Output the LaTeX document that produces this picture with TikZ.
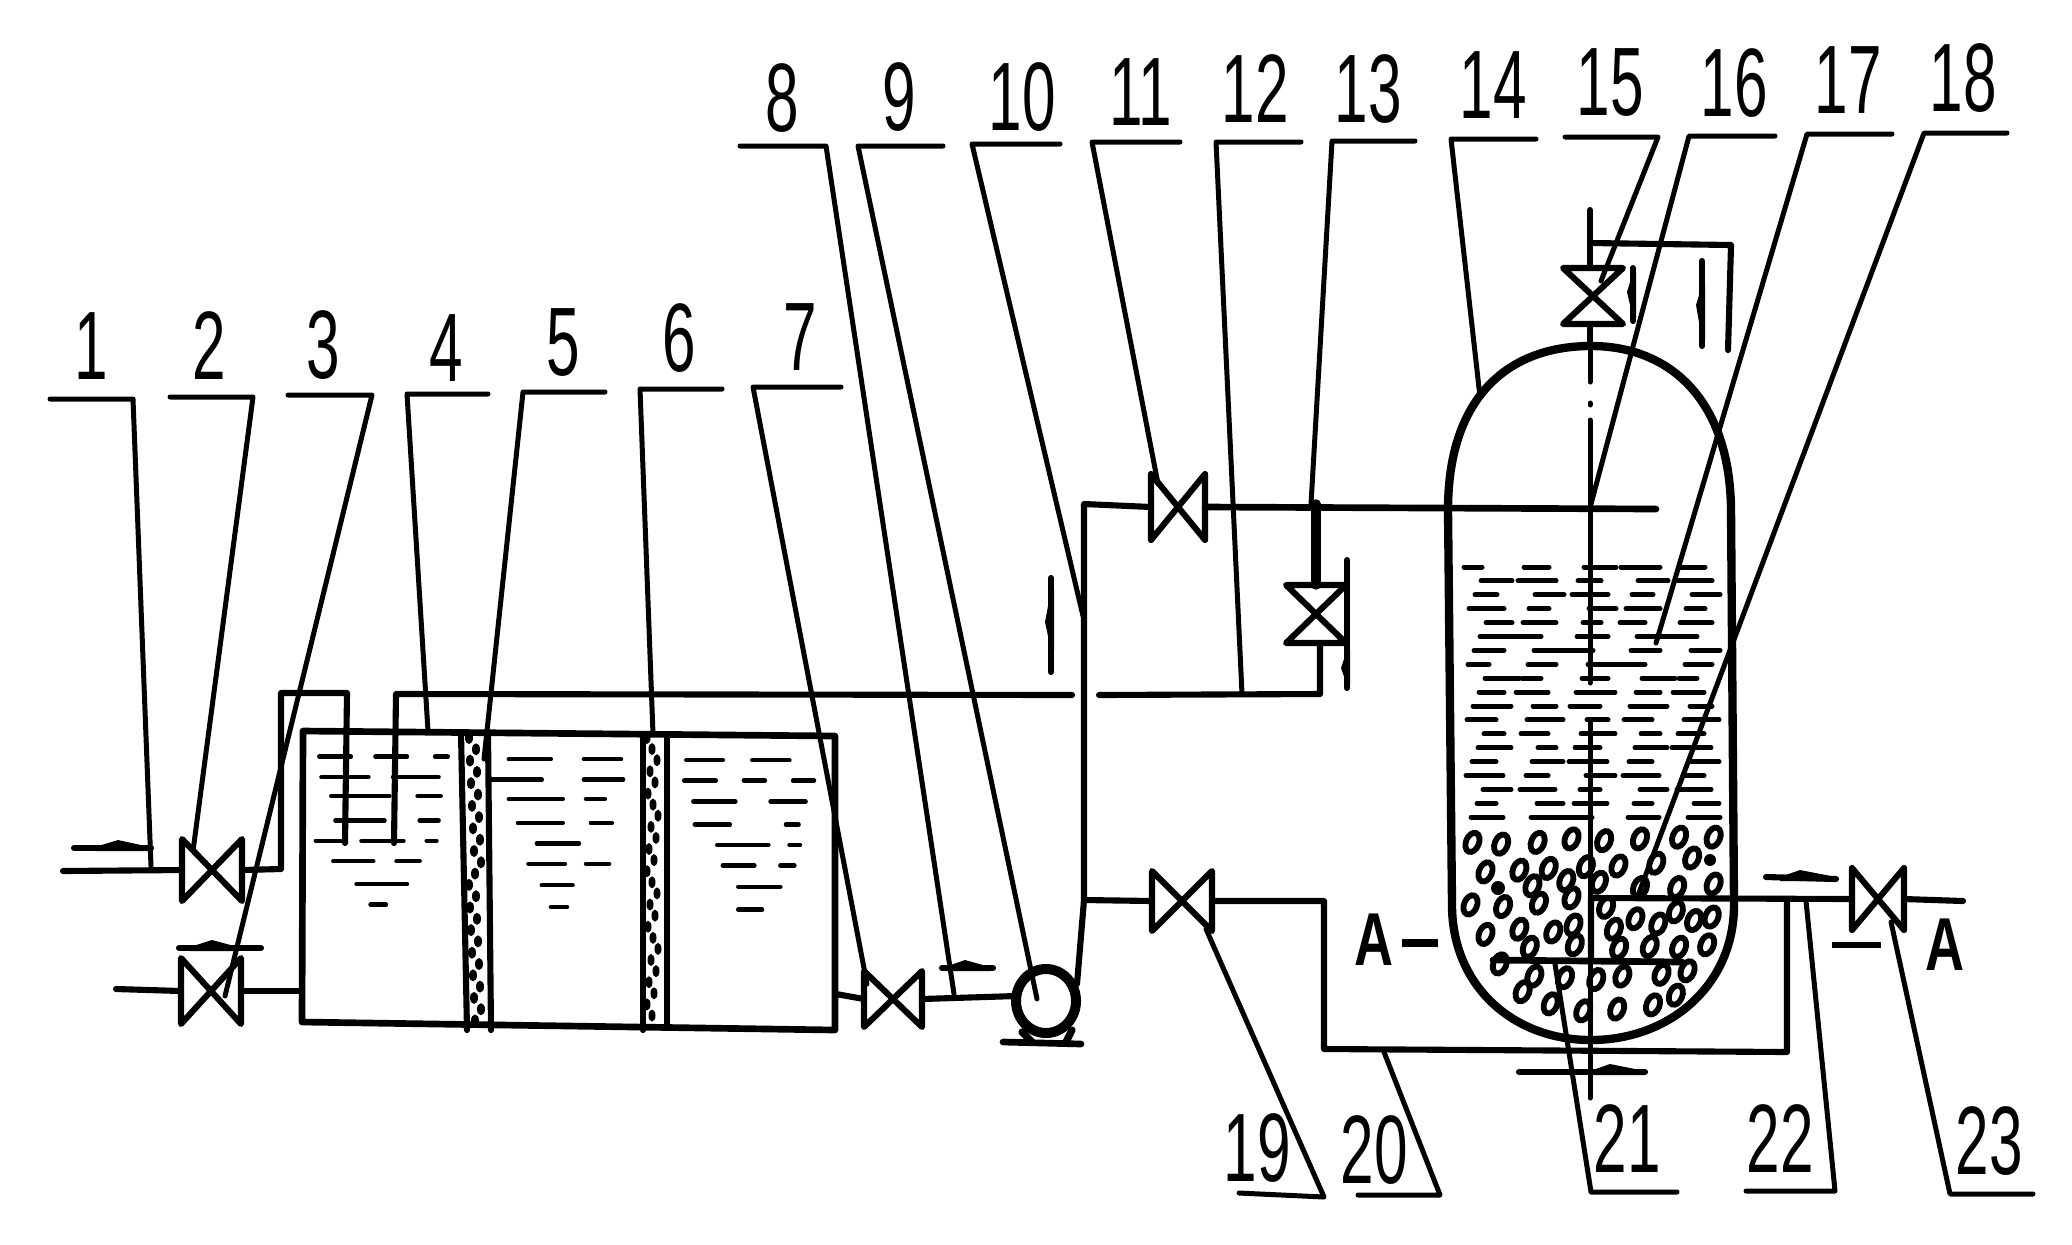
\documentclass[tikz,border=0pt]{standalone}
\usepackage{fontspec}
\newfontfamily\numfont[FakeStretch=0.62]{Liberation Sans}
\newfontfamily\afont[FakeStretch=0.72]{Liberation Sans Bold}
\tikzset{
  num/.style={inner sep=0pt,font=\numfont\fontsize{35}{35}\selectfont},
  letter/.style={inner sep=0pt,font=\afont\fontsize{27}{27}\selectfont},
  lead/.style={line width=1.8pt,line join=round,line cap=round},
  pipe/.style={line width=2.2pt,line join=round,line cap=round},
  wall/.style={line width=3pt,line join=round},
  fluid/.style={line width=1.6pt,line cap=round},
  gravel/.style={line width=2.1pt},
}
% label: id, text x,y, shelf free end x,y, shelf corner x,y, leader end x,y
\newcommand{\lab}[9]{%
  \node[num] (n#1) at (#2,#3) {#1};
  \coordinate (sa#1) at (#4,#5);
  \coordinate (sb#1) at (#6,#7);
  \coordinate (e#1) at (#8,#9);
  \draw[lead] (sa#1) -- (sb#1) -- (e#1);}
% horizontal valve: name, x, y, half width, half height
\newcommand{\valveH}[5]{%
  \coordinate (#1) at (#2,#3);
  \coordinate (#1-a) at ({#2-#4},#3);
  \coordinate (#1-b) at ({#2+#4},#3);
  \draw[pipe] ({#2-#4},{#3-#5}) -- ({#2+#4},{#3+#5}) -- ({#2+#4},{#3-#5}) -- ({#2-#4},{#3+#5}) -- cycle;}
% vertical valve
\newcommand{\valveV}[5]{%
  \coordinate (#1) at (#2,#3);
  \coordinate (#1-a) at (#2,{#3-#5});
  \coordinate (#1-b) at (#2,{#3+#5});
  \draw[pipe] ({#2-#4},{#3-#5}) -- ({#2+#4},{#3-#5}) -- ({#2-#4},{#3+#5}) -- ({#2+#4},{#3+#5}) -- cycle;}
% horizontal kite on a flow arrow: x0,x1,x2,y
\newcommand{\kiteH}[4]{\fill (#1,{#4-1}) -- (#2,{#4-8}) -- (#3,{#4-1}) -- (#3,{#4+3}) -- (#1,{#4+3}) -- cycle;}
% vertical kite: y0,y1,y2,x
\newcommand{\kiteV}[4]{\fill (#4,#1) -- ({#4-6},#2) -- (#4,#3) -- ({#4+3},#3) -- ({#4+3},#1) -- cycle;}
\begin{document}
\begin{tikzpicture}[x=0.36pt,y=-0.36pt]
\useasboundingbox (0,0) rectangle (2072,1244);
\fill[white] (0,0) rectangle (2072,1244);

% ---------- labels and leaders
\lab{1}{91}{346}{50}{399}{133}{399}{151}{866}
\lab{2}{209}{346}{170}{397}{253}{397}{193}{851}
\lab{3}{323}{345}{288}{395}{372}{395}{225}{996}
\lab{4}{446}{348}{488}{394}{407}{394}{428}{731}
\lab{5}{563}{343}{605}{392}{523}{392}{484}{759}
\lab{6}{679}{338}{722}{389}{640}{389}{653}{734}
\lab{7}{800}{337}{841}{387}{753}{387}{867}{984}
\lab{8}{782}{98}{740}{146}{826}{146}{954}{994}
\lab{9}{899}{97}{943}{146}{858}{146}{1037}{999}
\lab{10}{1022}{97}{1060}{144}{972}{144}{1083}{616}
\lab{11}{1141}{92}{1180}{142}{1092}{142}{1158}{484}
\lab{12}{1255}{89}{1301}{142}{1216}{142}{1242}{694}
\lab{13}{1368}{89}{1415}{141}{1332}{141}{1311}{504}
\lab{14}{1493}{85}{1536}{139}{1451}{139}{1480}{397}
\lab{15}{1610}{83}{1565}{137}{1658}{137}{1601}{281}
\lab{16}{1734}{83}{1775}{136}{1689}{136}{1591}{504}
\lab{17}{1848}{80}{1892}{134}{1807}{134}{1656}{643}
\lab{18}{1963}{78}{2007}{133}{1924}{133}{1637}{898}
\lab{19}{1257}{1148}{1239}{1193}{1324}{1197}{1206}{929}
\lab{20}{1374}{1150}{1358}{1195}{1440}{1195}{1384}{1052}
\lab{21}{1627}{1139}{1677}{1192}{1591}{1192}{1555}{964}
\lab{22}{1780}{1139}{1746}{1191}{1835}{1191}{1806}{901}
\lab{23}{1989}{1141}{2033}{1194}{1950}{1194}{1891}{922}

\node[letter] (aL) at (1374,940) {A};
\node[letter] (aR) at (1945,945) {A};
\coordinate (aLd1) at (1402,943); \coordinate (aLd2) at (1438,943);
\coordinate (aRd1) at (1832,945); \coordinate (aRd2) at (1881,945);
\draw[line width=2.6pt] (aLd1) -- (aLd2);
\draw[line width=2.2pt] (aRd1) -- (aRd2);

% ---------- valves
\valveH{v2}{212}{870}{30}{31}
\valveH{v3}{211}{991}{30}{33}
\valveH{v7}{893}{999}{29}{28}
\valveH{v11}{1178}{507}{27}{33}
\valveV{v13}{1316}{614}{30}{29}
\valveV{v15}{1593}{296}{30}{28}
\valveH{v19}{1182}{901}{30}{30}
\valveH{v23}{1878}{899}{26}{31}

% ---------- tank
\coordinate (tTL) at (303,731);
\coordinate (tTR) at (835,736);
\coordinate (tBR) at (835,1030);
\coordinate (tBL) at (302,1022);
\draw[pipe,line width=2.4pt] (tTL) -- (tTR) -- (tBR) -- (tBL) -- cycle;
\draw[pipe] (461,733) -- (467,1030);
\draw[pipe] (488,733) -- (491,1030);
\draw[pipe] (643,734) -- (643,1030);
\draw[pipe] (667,734) -- (667,1026);
\foreach \i in {0,...,25}{
  \fill ({469+mod(\i*7,13)},{738+\i*11.3}) ellipse [x radius=4,y radius=6];
  \fill ({647+mod(\i*5,12)},{738+\i*11.1}) ellipse [x radius=3.5,y radius=6];
}
% tank liquid
\foreach \y/\a/\b in {
 895/455/500,895/535/580,895/620/638,
 935/458/525,935/560/625,
 972/472/555,972/595/628,
 1020/478/548,1020/598/625,
 1060/450/490,1060/515/575,1060/608/622,
 1100/475/532,1100/565/598,
 1145/508/580,1185/528/550,
 900/725/785,900/832/885,
 940/700/772,940/832/888,
 978/725/802,978/835/862,
 1025/738/802,1025/842/872,
 1065/765/825,
 1105/753/805,1105/835/868,
 1147/772/816,1190/785/808,
 902/978/1030,902/1072/1125,
 942/975/1020,942/1060/1090,942/1130/1160,
 983/988/1048,983/1098/1148,
 1028/990/1040,1028/1120/1138,
 1068/1022/1095,1068/1125/1140,
 1108/1030/1075,1108/1112/1132,
 1150/1052/1112,1195/1052/1086}{
  \draw[fluid] ({\a/1.425},{300+\y/1.96}) -- ({\b/1.425},{300+\y/1.96});
}
% dip pipes
\coordinate (d1) at (345,843); \coordinate (d1t) at (347,693); \coordinate (d1c) at (281,693); \coordinate (d1v) at (281,869);
\coordinate (d2) at (394,843); \coordinate (d2t) at (396,694); \coordinate (hE) at (1072,695);
\coordinate (in2) at (63,871); \coordinate (in3) at (116,989);
\draw[pipe] (v2-b) -- (d1v) -- (d1c) -- (d1t) -- (d1);
\draw[pipe] (d2) -- (d2t) -- (hE);
\draw[pipe] (in2) -- (v2-a);
\draw[pipe] (in3) -- (v3-a);
\coordinate (t3) at (302,991);
\draw[pipe] (v3-b) -- (t3);
\coordinate (t7) at (836,994);
\draw[pipe] (t7) -- (v7-a);

% ---------- pump and riser
\coordinate (pc) at (1046,1001);
\draw[line width=3.6pt] (pc) ellipse [x radius=30,y radius=32];
\coordinate (pb1) at (1003,1042); \coordinate (pb2) at (1081,1044);
\draw[pipe,line width=2.4pt] (pb1) -- (pb2);
\draw[pipe,line width=2.6pt] (1022,1032) -- (1032,1042);
\draw[pipe,line width=2.6pt] (1072,1030) -- (1066,1042);
\coordinate (pin) at (1016,996);
\draw[pipe] (v7-b) -- (pin);
\coordinate (rB) at (1077,984); \coordinate (rT) at (1084,504); \coordinate (r2) at (1084,900);
\draw[pipe] (rB) -- (r2) -- (rT) -- (v11-a);
\draw[pipe] (r2) -- (v19-a);

% ---------- right-hand pipes
\coordinate (h11E) at (1656,509);
\draw[pipe,line width=2.4pt] (v11-b) -- (h11E);
\coordinate (h2a) at (1099,695); \coordinate (h2b) at (1320,694); \coordinate (h2c) at (1320,643);
\draw[pipe] (h2a) -- (h2b) -- (h2c);
\coordinate (v13t) at (1316,504);
\draw[pipe,line width=3.4pt] (v13t) -- (v13-a);
\coordinate (b1) at (1324,901); \coordinate (b2) at (1324,1049); \coordinate (b3) at (1787,1052); \coordinate (b4) at (1787,900);
\draw[pipe] (v19-b) -- (b1) -- (b2) -- (b3) -- (b4);
\coordinate (o1) at (1591,898); \coordinate (o2) at (1591,957);
\coordinate (o3) at (1493,960); \coordinate (o4) at (1682,962);
\draw[pipe] (o2) -- (o1) -- (v23-a);
\draw[pipe,line width=2.4pt] (o3) -- (o4);
\coordinate (o5) at (1963,901);
\draw[pipe] (v23-b) -- (o5);

% ---------- vessel
\draw[wall] (1448,510) .. controls (1448,395) and (1510,346) .. (1591,346)
  .. controls (1670,346) and (1730,400) .. (1731,510) -- (1734,905)
  .. controls (1734,985) and (1670,1040) .. (1591,1040)
  .. controls (1512,1040) and (1452,985) .. (1452,905) -- cycle;

% top vent
\coordinate (c0) at (1590,210); \coordinate (c1) at (1590,243);
\coordinate (c2) at (1731,245); \coordinate (c3) at (1728,350);
\draw[pipe] (c0) -- (c1) -- (1590,267);
\draw[pipe] (c1) -- (c2) -- (c3);
\coordinate (c4) at (1590,346);
\draw[pipe] (1590,325) -- (c4);
% centre line (broken)
\draw[lead] (c4) -- (1590,382);
\draw[lead] (1590,403) -- (1590,405);
\draw[lead] (1590,420) -- (1590,683);
\draw[lead] (1590,721) -- (1590,1098);

% vessel liquid
\foreach \r in {0,...,18}{
  \foreach \c in {0,...,4}{
    \pgfmathsetmacro{\xa}{1464+\c*52+mod(\r*17+\c*31,23)}
    \pgfmathsetmacro{\xb}{\xa+18+mod(\r*13+\c*7,22)}
    \pgfmathsetmacro{\yy}{567+\r*13.9}
    \draw[fluid,line width=1.8pt] (\xa,\yy) -- ({min(\xb,1720)},\yy);
  }
}
% gravel
\foreach \a/\b in {
 648/410,692/415,748/410,800/400,850/405,905/400,965/395,1018/395,
 668/495,720/490,765/485,822/480,872/478,930/470,985/455,
 740/535,792/520,842/525,905/540,962/540,1018/530,
 645/590,695/595,750/585,800/570,853/597,898/630,933/645,960/610,988/635,1015/625,
 668/675,720/660,772/668,803/648,865/660,805/705,736/712,873/715,920/710,965/712,1008/705,
 690/760,743/795,790/800,838/805,878/795,938/790,978/780,725/840,768/875,818/895,870/890,925/878,960/850}{
  \draw[gravel,shift={({1050+\a/1.534},{700+\b/2.88})},rotate=-22] (0,0) ellipse [x radius=6.5,y radius=10];
}
\fill (1710,860) circle (6);
\fill (1498,888) circle (7);

% ---------- flow arrows
\coordinate (f1a) at (74,848); \coordinate (f1b) at (151,848);
\draw[pipe] (f1a) -- (f1b); \kiteH{95}{118}{150}{848}
\coordinate (f2a) at (179,948); \coordinate (f2b) at (261,948);
\draw[pipe] (f2a) -- (f2b); \kiteH{190}{212}{238}{948}
\coordinate (f3a) at (942,968); \coordinate (f3b) at (993,968);
\draw[pipe] (f3a) -- (f3b); \kiteH{945}{965}{990}{968}
\coordinate (f4a) at (1051,578); \coordinate (f4b) at (1051,672);
\draw[pipe] (f4a) -- (f4b); \kiteV{590}{622}{650}{1051}
\coordinate (f5a) at (1347,560); \coordinate (f5b) at (1347,688);
\draw[pipe] (f5a) -- (f5b); \kiteV{650}{668}{685}{1347}
\coordinate (f6a) at (1633,268); \coordinate (f6b) at (1633,321);
\draw[pipe] (f6a) -- (f6b); \kiteV{272}{292}{318}{1633}
\coordinate (f7a) at (1702,261); \coordinate (f7b) at (1702,346);
\draw[pipe] (f7a) -- (f7b); \kiteV{285}{305}{340}{1702}
\coordinate (f8a) at (1519,1072); \coordinate (f8b) at (1645,1072);
\draw[pipe] (f8a) -- (f8b); \kiteH{1590}{1610}{1645}{1072}
\coordinate (f9a) at (1766,877); \coordinate (f9b) at (1836,879);
\draw[pipe] (f9a) -- (f9b); \kiteH{1780}{1800}{1836}{878}
\end{tikzpicture}
\end{document}
